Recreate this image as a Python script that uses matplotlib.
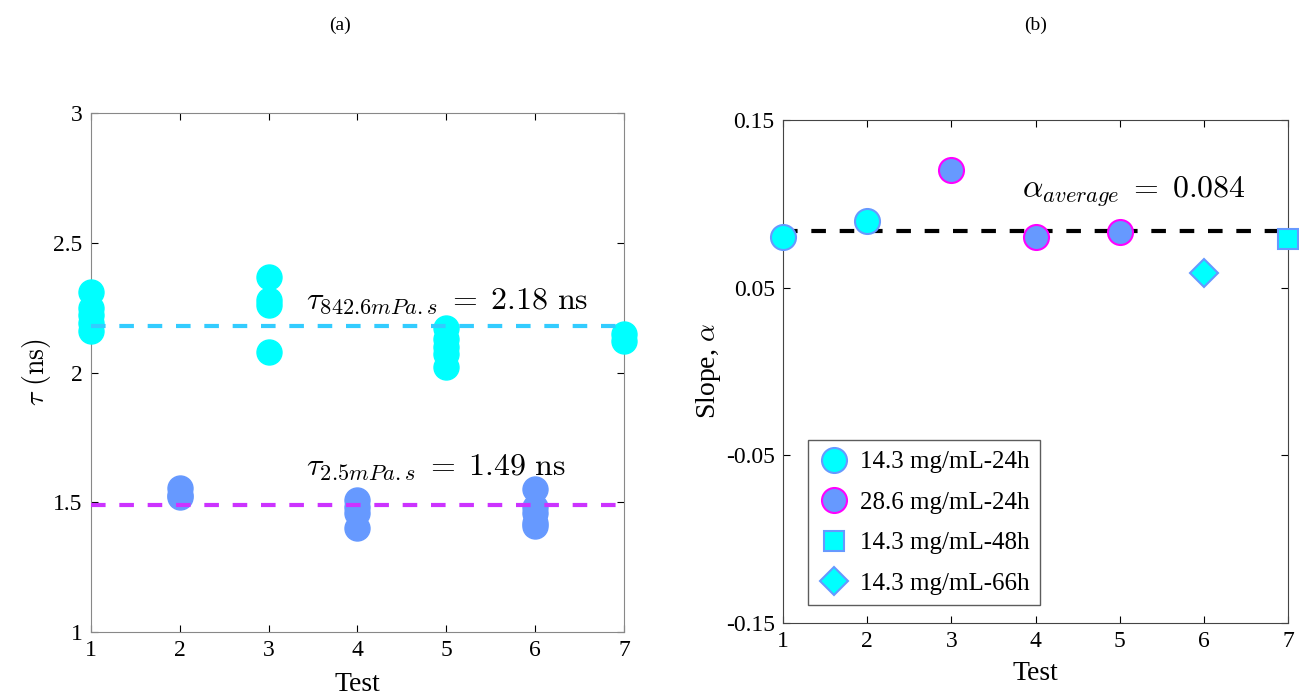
import numpy as np
import matplotlib
matplotlib.use('Agg')
import matplotlib.pyplot as plt
from matplotlib.lines import Line2D

plt.rcParams['font.family'] = ['Liberation Serif', 'DejaVu Serif']
plt.rcParams['mathtext.fontset'] = 'cm'

# panel (a): lifetime per test
tests_a = [1, 2, 3, 4, 5, 6, 7]
tau_high_x = [1, 1, 1, 1, 1, 3, 3, 3, 3, 5, 5, 5, 5, 5, 7, 7]
tau_high_y = [2.31, 2.25, 2.22, 2.19, 2.16, 2.37, 2.28, 2.26, 2.08,
              2.17, 2.13, 2.10, 2.07, 2.02, 2.15, 2.12]
tau_low_x = [2, 2, 2, 4, 4, 4, 4, 6, 6, 6, 6, 6]
tau_low_y = [1.555, 1.53, 1.52, 1.51, 1.48, 1.46, 1.40, 1.55, 1.48, 1.46, 1.42, 1.41]
tau_high_mean = 2.18
tau_low_mean = 1.49

# panel (b): slope per test
slope_24h_x = [1, 2]
slope_24h_y = [0.080, 0.090]
slope_28_x = [3, 4, 5]
slope_28_y = [0.120, 0.080, 0.083]
slope_48h_x = [7]
slope_48h_y = [0.079]
slope_66h_x = [6]
slope_66h_y = [0.059]
alpha_avg = 0.084

cyan = '#00ffff'
blue = '#6699ff'
magenta = '#ff00ff'

fig = plt.figure(figsize=(12.99, 7.0), dpi=100)

# ---- (a)
ax1 = fig.add_axes([0.070, 0.0971, 0.4103, 0.7414])
ax1.plot(tau_high_x, tau_high_y, 'o', ms=18, color=cyan, mec=cyan, ls='none', clip_on=False, zorder=3)
ax1.plot(tau_low_x, tau_low_y, 'o', ms=18, color=blue, mec=blue, ls='none', clip_on=False, zorder=3)
ax1.plot([tests_a[0], tests_a[-1]], [tau_high_mean] * 2, '--', color='#33ccff', lw=3, dashes=(3.5, 3.3), zorder=4)
ax1.plot([tests_a[0], tests_a[-1]], [tau_low_mean] * 2, '--', color='#cc33ff', lw=3, dashes=(3.5, 3.3), zorder=4)
ax1.text(3.42, 2.245, r'$\tau_{842.6mPa.s}\;=\;2.18\ \mathrm{ns}$', fontsize=23)
ax1.text(3.42, 1.605, r'$\tau_{2.5mPa.s}\;=\;1.49\ \mathrm{ns}$', fontsize=23)
ax1.set_xlim(1, 7)
ax1.set_ylim(1, 3)
ax1.set_xticks(tests_a)
ax1.set_yticks([1, 1.5, 2, 2.5, 3])
ax1.set_yticklabels(['1', '1.5', '2', '2.5', '3'])
ax1.set_xlabel('Test', fontsize=20, labelpad=8)
ax1.set_ylabel(r'$\tau\ (\mathrm{ns})$', fontsize=20, labelpad=0)
for s in ax1.spines.values():
    s.set_color('#888888')

# ---- (b)
ax2 = fig.add_axes([0.6028, 0.110, 0.3888, 0.7186])
ax2.plot([1, 7], [alpha_avg] * 2, '--', color='black', lw=3, dashes=(3.5, 3.3), zorder=2)
ax2.plot(slope_24h_x, slope_24h_y, 'o', ms=18, color=cyan, mec=blue, mew=1.5, ls='none', clip_on=False, zorder=3)
ax2.plot(slope_28_x, slope_28_y, 'o', ms=18, color=blue, mec=magenta, mew=1.5, ls='none', clip_on=False, zorder=3)
ax2.plot(slope_48h_x, slope_48h_y, 's', ms=15, color=cyan, mec=blue, mew=1.5, ls='none', clip_on=False, zorder=3)
ax2.plot(slope_66h_x, slope_66h_y, 'D', ms=14, color=cyan, mec=blue, mew=1.5, ls='none', clip_on=False, zorder=3)
ax2.text(3.84, 0.1035, r'$\alpha_{average}\;=\;0.084$', fontsize=23)
ax2.set_xlim(1, 7)
ax2.set_ylim(-0.15, 0.15)
ax2.set_xticks([1, 2, 3, 4, 5, 6, 7])
ax2.set_yticks([-0.15, -0.05, 0.05, 0.15])
ax2.set_yticklabels(['-0.15', '-0.05', '0.05', '0.15'])
ax2.set_xlabel('Test', fontsize=20, labelpad=6)
ax2.set_ylabel(r'Slope, $\alpha$', fontsize=20, labelpad=2)
for s in ax2.spines.values():
    s.set_color('#444444')

handles = [
    Line2D([], [], marker='o', ls='none', ms=18, color=cyan, mec=blue, mew=1.5),
    Line2D([], [], marker='o', ls='none', ms=18, color=blue, mec=magenta, mew=1.5),
    Line2D([], [], marker='s', ls='none', ms=15, color=cyan, mec=blue, mew=1.5),
    Line2D([], [], marker='D', ls='none', ms=14, color=cyan, mec=blue, mew=1.5),
]
labels = ['14.3 mg/mL-24h', '28.6 mg/mL-24h', '14.3 mg/mL-48h', '14.3 mg/mL-66h']
leg = ax2.legend(handles, labels, loc='lower left', bbox_to_anchor=(0.05, 0.035),
                 frameon=True, fancybox=False, edgecolor='#333333',
                 handletextpad=0.45, labelspacing=0.72, borderpad=0.42, handlelength=1.2,
                 borderaxespad=0.0, prop={'family': 'Liberation Serif', 'size': 18})
leg.get_frame().set_linewidth(1.0)

for ax in (ax1, ax2):
    ax.tick_params(direction='in', top=True, right=True, labelsize=17, length=5, pad=6)

fig.text(0.2617, 0.964, '(a)', ha='center', va='center', fontsize=14)
fig.text(0.797, 0.964, '(b)', ha='center', va='center', fontsize=14)

fig.savefig('out.png', dpi=100)
